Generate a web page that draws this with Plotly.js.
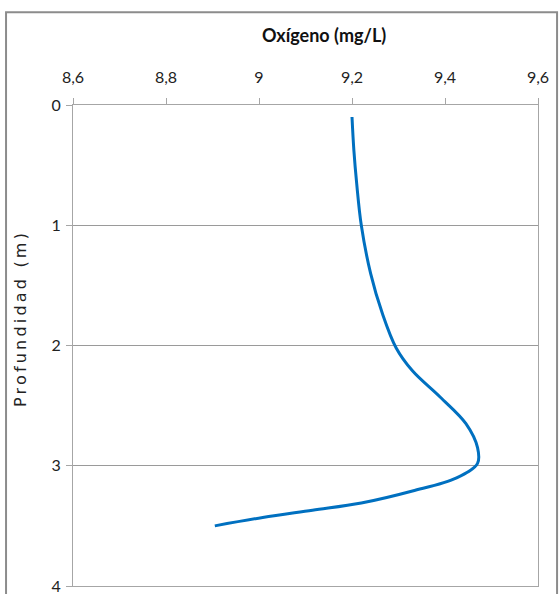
<!DOCTYPE html>
<html>
<head>
<meta charset="utf-8">
<script src="https://cdn.plot.ly/plotly-3.0.1.min.js"></script>
<style>
html,body{margin:0;padding:0;background:#fff;}
#chart{width:560px;height:594px;}
</style>
</head>
<body>
<div id="chart"></div>
<script>
// Data
var oxygen = [9.200, 9.204, 9.210, 9.220, 9.240, 9.265, 9.295, 9.330, 9.390, 9.445, 9.470, 9.470, 9.425, 9.330, 9.220, 9.115, 9.008, 8.905];
var depth  = [0.10, 0.375, 0.65, 1.00, 1.40, 1.73, 2.02, 2.21, 2.43, 2.65, 2.85, 2.98, 3.10, 3.21, 3.31, 3.37, 3.43, 3.50];
var xTickVals = [8.6, 8.8, 9.0, 9.2, 9.4, 9.6];
var xTickText = ["8,6", "8,8", "9", "9,2", "9,4", "9,6"];
var yTickVals = [0, 1, 2, 3, 4];
var yTickText = ["0", "1", "2", "3", "4"];

var tickFont = {family: "Lato, Liberation Sans, sans-serif", size: 16, color: "#222"};

var trace = {
  x: oxygen, y: depth, type: "scatter", mode: "lines",
  line: {color: "#0070c0", width: 3, shape: "spline", smoothing: 1.0},
  hoverinfo: "skip", showlegend: false
};

var layout = {
  width: 560, height: 594,
  margin: {l: 73, r: 22, t: 105, b: 8},
  paper_bgcolor: "#fff", plot_bgcolor: "#fff",
  showlegend: false,
  xaxis: {
    side: "top", range: [8.6, 9.6], tickvals: xTickVals, ticktext: xTickText,
    showgrid: false, zeroline: false, showline: true, linecolor: "#a6a6a6", linewidth: 1, mirror: true,
    ticks: "outside", ticklen: 6, tickcolor: "#a6a6a6", tickfont: tickFont, ticklabelstandoff: 9,
    fixedrange: true
  },
  yaxis: {
    range: [4, 0], tickvals: yTickVals, ticktext: yTickText,
    showgrid: true, gridcolor: "#9a9a9a", gridwidth: 1, zeroline: false,
    showline: true, linecolor: "#a6a6a6", linewidth: 1, mirror: true,
    ticks: "outside", ticklen: 6, tickcolor: "#a6a6a6", tickfont: tickFont, ticklabelstandoff: 2,
    ticklabeloverflow: "allow", automargin: false,
    fixedrange: true
  },
  annotations: [
    {text: "<b>Oxígeno (mg/L)</b>", xref: "paper", yref: "paper", x: 0.54, y: 1.145,
     xanchor: "center", yanchor: "middle", showarrow: false,
     font: {family: "Lato, Liberation Sans, sans-serif", size: 18, color: "#111"}},
    {text: "Profundidad (m)", xref: "paper", yref: "paper", x: -0.114, y: 0.557,
     xanchor: "center", yanchor: "middle", textangle: -90, showarrow: false,
     font: {family: "DejaVu Sans, Verdana, sans-serif", size: 16, color: "#222"}}
  ],
  shapes: [
    {type: "rect", xref: "paper", yref: "paper", x0: -0.144, x1: 1.041, y0: -0.03, y1: 1.193,
     line: {color: "#8c8c8c", width: 2}, fillcolor: "rgba(0,0,0,0)", layer: "below"}
  ]
};

Plotly.newPlot("chart", [trace], layout, {displayModeBar: false, staticPlot: true}).then(function(){
  var t = document.querySelectorAll(".annotation-text");
  if (t.length > 1) { t[1].style.letterSpacing = "3.2px"; }
});
</script>
</body>
</html>
